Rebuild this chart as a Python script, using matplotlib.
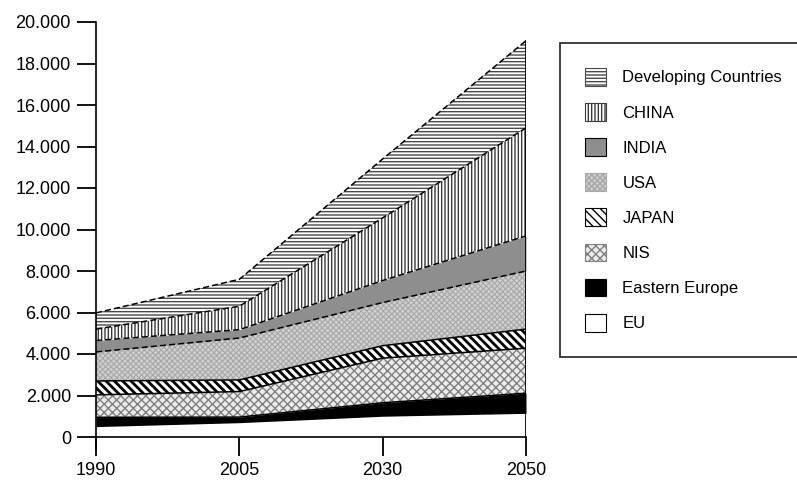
import matplotlib
matplotlib.use("Agg")
import matplotlib.pyplot as plt
import numpy as np
from matplotlib.patches import Patch

plt.rcParams['font.family'] = ['Liberation Sans', 'DejaVu Sans']

years = ["1990", "2005", "2030", "2050"]
series_names = ["EU", "Eastern Europe", "NIS", "JAPAN", "USA", "INDIA", "CHINA", "Developing Countries"]
eu = [500, 690, 1000, 1140]
eastern_europe = [450, 270, 650, 970]
nis = [1080, 1230, 2150, 2170]
japan = [670, 560, 600, 920]
usa = [1400, 2020, 2080, 2800]
india = [550, 400, 1060, 1690]
china = [550, 1130, 3020, 5210]
developing = [780, 1300, 2840, 4200]
yticks = [0, 2000, 4000, 6000, 8000, 10000, 12000, 14000, 16000, 18000, 20000]
ytick_labels = ["0", "2.000", "4.000", "6.000", "8.000", "10.000", "12.000",
                "14.000", "16.000", "18.000", "20.000"]

values = [eu, eastern_europe, nis, japan, usa, india, china, developing]
styles = [
    dict(facecolor="white", edgecolor="white", hatch=None, hlw=1.0),
    dict(facecolor="black", edgecolor="black", hatch=None, hlw=1.0),
    dict(facecolor="#ececec", edgecolor="#808080", hatch="xxxx", hlw=1.0),
    dict(facecolor="white", edgecolor="black", hatch="\\\\\\\\", hlw=2.0),
    dict(facecolor="#d0d0d0", edgecolor="#a8a8a8", hatch="xxxxxx", hlw=0.8),
    dict(facecolor="#8e8e8e", edgecolor="#8e8e8e", hatch=None, hlw=1.0),
    dict(facecolor="white", edgecolor="#3a3a3a", hatch="|||||", hlw=1.0),
    dict(facecolor="white", edgecolor="#4a4a4a", hatch="-----", hlw=1.0),
]
dashed_tops = [False, False, False, False, True, True, True, True]

fig = plt.figure(figsize=(7.97, 4.91), dpi=100)
ax = fig.add_axes([96/797, 1-437/491, (526-96)/797, (437-22)/491])

x = np.arange(len(years))
bottom = np.zeros(len(years))
for name, vals, st, dashed in zip(series_names, values, styles, dashed_tops):
    top = bottom + np.array(vals, dtype=float)
    with plt.rc_context({'hatch.linewidth': st["hlw"]}):
        ax.fill_between(x, bottom, top, facecolor=st["facecolor"], edgecolor=st["edgecolor"],
                        hatch=st["hatch"], linewidth=0, zorder=1)
    if name != "EU":
        if dashed:
            ax.plot(x, top, color="black", linestyle=(0, (4, 2)), linewidth=1.1, zorder=3)
        else:
            ax.plot(x, top, color="black", linestyle="-", linewidth=1.1, zorder=3)
    bottom = top

# right edge line at last category
ax.plot([x[-1], x[-1]], [0, bottom[-1]], color="black", linewidth=1.3, zorder=4)

ax.set_xlim(0, len(years) - 1)
ax.set_ylim(0, 20000)
ax.set_xticks(x)
ax.set_xticklabels(years)
ax.set_yticks(yticks)
ax.set_yticklabels(ytick_labels)
ax.spines['top'].set_visible(False)
ax.spines['right'].set_visible(False)
ax.spines['left'].set_linewidth(1.2)
ax.spines['bottom'].set_linewidth(1.2)
ax.spines['left'].set_bounds(-600, 20000)
ax.tick_params(axis='y', length=14, width=1.3, labelsize=13, pad=4)
ax.tick_params(axis='x', length=14, width=1.3, labelsize=13, pad=4)

handles = []
for name, st in zip(series_names, styles):
    with plt.rc_context({'hatch.linewidth': st["hlw"]}):
        handles.append(Patch(facecolor=st["facecolor"],
                             edgecolor="black" if st["hatch"] is None else st["edgecolor"],
                             hatch=st["hatch"], linewidth=0.8, label=name))
handles = handles[::-1]
leg = fig.legend(handles=handles, loc="upper left", bbox_to_anchor=(560/797, 1-43/491),
                 frameon=True, fancybox=False, edgecolor="black", fontsize=12,
                 labelspacing=1.05, handlelength=1.25, handleheight=1.25,
                 borderpad=1.5, handletextpad=1.0, borderaxespad=0)
leg.get_frame().set_linewidth(1.3)

fig.savefig("out.png", dpi=100)
